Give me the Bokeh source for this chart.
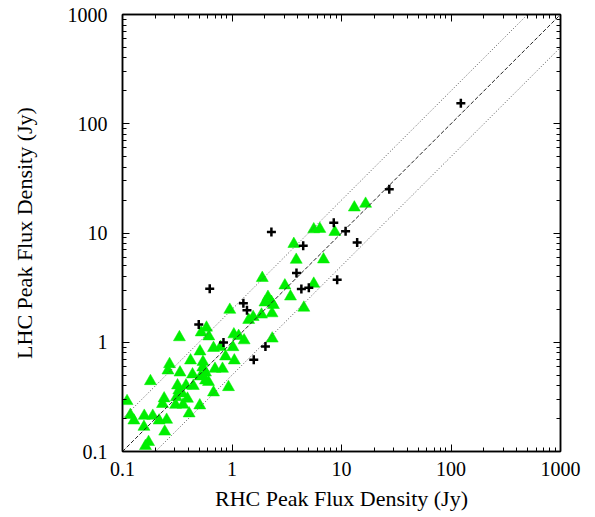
from bokeh.plotting import figure
from bokeh.models import Range1d, LogAxis, FixedTicker, CustomJSTickFormatter
from bokeh.embed import file_html
from bokeh.resources import INLINE

# Sources marked with crosses: RHC and LHC peak flux densities (Jy)
cross_rhc = [123, 27.3, 8.5, 10.9, 13.9, 2.29, 4.47, 3.88, 9.13, 4.30, 5.03,
             0.626, 1.27, 1.37, 0.497, 0.836, 2.02, 1.58]
cross_lhc = [154, 25.2, 12.4, 10.4, 8.2, 10.2, 7.65, 4.30, 3.73, 3.07, 3.15,
             3.09, 2.28, 1.96, 1.45, 0.997, 0.914, 0.691]

# Sources marked with triangles
tri_rhc = [16.6, 13.1, 5.58, 6.34, 8.69, 3.67, 3.86, 6.85, 1.89, 3.04, 5.58,
           3.42, 2.13, 2.00, 2.29, 2.39, 4.53, 2.32, 1.86, 1.56, 1.42, 0.955,
           0.585, 0.523, 0.614, 0.331, 1.04, 1.15, 1.29, 2.33, 0.785, 0.678,
           1.02, 0.510, 0.872, 1.05, 0.418, 0.543, 0.269, 0.260, 0.335, 0.436,
           0.541, 0.573, 0.699, 0.819, 0.516, 0.573, 0.610, 0.180, 0.318, 0.380,
           0.443, 0.929, 0.327, 0.350, 0.678, 0.311, 0.392, 0.240, 0.110, 0.305,
           0.232, 0.357, 0.508, 0.406, 0.118, 0.127, 0.158, 0.189, 0.216, 0.253,
           0.157, 0.243, 0.173, 0.162]
tri_lhc = [18.5, 17.1, 10.8, 10.9, 10.2, 7.93, 5.68, 5.72, 3.87, 3.31, 3.43,
           2.62, 2.60, 2.31, 2.34, 2.19, 2.07, 1.84, 1.79, 1.70, 1.60, 1.98,
           1.36, 1.23, 1.13, 1.11, 1.18, 1.14, 1.04, 1.08, 0.905, 0.886,
           0.901, 0.823, 0.741, 0.681, 0.681, 0.660, 0.630, 0.551, 0.528, 0.507,
           0.587, 0.528, 0.571, 0.571, 0.486, 0.447, 0.433, 0.440, 0.402, 0.402,
           0.398, 0.388, 0.362, 0.340, 0.347, 0.314, 0.304, 0.306, 0.289, 0.267,
           0.272, 0.268, 0.264, 0.223, 0.216, 0.192, 0.212, 0.212, 0.192, 0.195,
           0.168, 0.152, 0.122, 0.112]

# Reference lines: LHC = RHC (dashed) and factor-of-two bounds (dotted)
ref_x = [0.1, 1000]
equal_ratio = 1.0
bound_ratios = [2.0, 0.5]

tick_values = [0.1, 1, 10, 100, 1000]
minor_values = [k * d for d in tick_values[:-1] for k in range(2, 10)]

FONT = "Liberation Serif"

p = figure(width=595, height=517,
           x_axis_type="log", y_axis_type="log",
           x_range=Range1d(0.1, 1000), y_range=Range1d(0.1, 1000),
           output_backend="svg", toolbar_location=None,
           min_border_left=122, min_border_right=35,
           min_border_top=14, min_border_bottom=66)
p.grid.visible = False
p.outline_line_color = "black"
p.outline_line_width = 1.5
p.background_fill_color = "white"
p.border_fill_color = "white"

label_fmt = CustomJSTickFormatter(code="return String(Math.round(tick * 10) / 10);")
blank_fmt = CustomJSTickFormatter(code="return '';")


def style_axis(ax, labelled):
    ax.ticker = FixedTicker(ticks=tick_values, minor_ticks=minor_values)
    ax.axis_line_color = "black"
    ax.axis_line_width = 1.5
    ax.major_tick_in = 7
    ax.major_tick_out = 0
    ax.minor_tick_in = 4
    ax.minor_tick_out = 0
    ax.major_tick_line_color = "black"
    ax.minor_tick_line_color = "black"
    ax.major_tick_line_width = 1
    ax.minor_tick_line_width = 1
    if labelled:
        ax.formatter = label_fmt
        ax.major_label_text_font = FONT
        ax.major_label_text_font_size = "20px"
        ax.major_label_text_color = "black"
        ax.axis_label_text_font = FONT
        ax.axis_label_text_font_size = "22px"
        ax.axis_label_text_font_style = "normal"
        ax.axis_label_text_color = "black"
    else:
        ax.formatter = blank_fmt
        ax.major_label_standoff = 0
        ax.major_label_text_font_size = "0px"


xa = p.xaxis[0]
ya = p.yaxis[0]
style_axis(xa, True)
style_axis(ya, True)
xa.axis_label = "RHC Peak Flux Density (Jy)"
ya.axis_label = "LHC Peak Flux Density (Jy)"
xa.major_label_standoff = 10
xa.axis_label_standoff = 7
ya.major_label_standoff = 15
ya.axis_label_standoff = 28

top_ax = LogAxis()
right_ax = LogAxis()
style_axis(top_ax, False)
style_axis(right_ax, False)
p.add_layout(top_ax, "above")
p.add_layout(right_ax, "right")

# Data points
p.scatter(tri_rhc, tri_lhc, marker="triangle", size=12,
          fill_color="#00ee00", line_color="#00ee00", line_width=0.5)
p.scatter(cross_rhc, cross_lhc, marker="cross", size=9,
          line_color="black", line_width=2.5)

# Reference lines
p.line(ref_x, [equal_ratio * x for x in ref_x], line_color="#222222",
       line_width=1, line_dash="4 2")
for r in bound_ratios:
    p.line(ref_x, [r * x for x in ref_x], line_color="#555555",
           line_width=1, line_dash="1 2")

open("out.html", "w").write(file_html(p, INLINE))
